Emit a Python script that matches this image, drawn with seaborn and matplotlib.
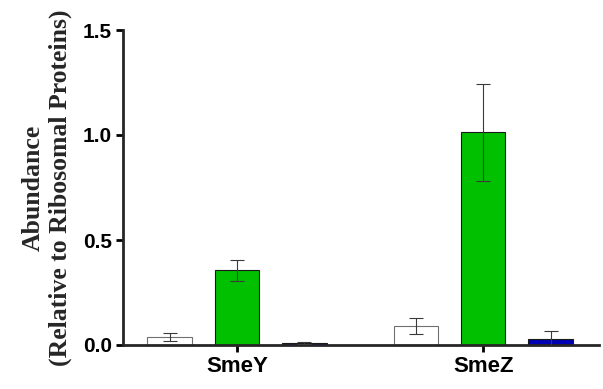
import matplotlib
matplotlib.use("Agg")
import matplotlib.pyplot as plt
import seaborn as sns
import pandas as pd

proteins = ["SmeY", "SmeZ"]
conditions = ["Control", "Treatment A", "Treatment B"]
means = {
    "Control": [0.038, 0.092],
    "Treatment A": [0.355, 1.013],
    "Treatment B": [0.008, 0.030],
}
errors = {
    "Control": [0.019, 0.038],
    "Treatment A": [0.052, 0.230],
    "Treatment B": [0.005, 0.036],
}
colors = ["#ffffff", "#00c000", "#0000b4"]
edges = ["#707070", "#1a1a1a", "#1a1a1a"]

rows = []
for c in conditions:
    for p, m, e in zip(proteins, means[c], errors[c]):
        rows.append({"protein": p, "condition": c, "mean": m, "err": e})
df = pd.DataFrame(rows)

sns.set_style("ticks")
fig = plt.figure(figsize=(6.03, 3.89), dpi=100)
ax = fig.add_axes([123 / 603, 1 - 345 / 389, (599 - 123) / 603, (345 - 30) / 389])

sns.barplot(data=df, x="protein", y="mean", hue="condition", order=proteins,
            hue_order=conditions, palette=colors, saturation=1, width=0.82,
            gap=0.34, errorbar=None, legend=False, ax=ax, linewidth=0.8)

# colour edges and attach error bars to each bar
bar_groups = list(ax.containers)
for ci, cont in enumerate(bar_groups):
    cond = conditions[ci]
    for pi, bar in enumerate(cont):
        bar.set_edgecolor(edges[ci])
        x = bar.get_x() + bar.get_width() / 2
        ax.errorbar(x, means[cond][pi], yerr=errors[cond][pi], fmt="none",
                    ecolor="#3a3a3a", elinewidth=0.8, capsize=5, capthick=0.8,
                    zorder=3)

ax.set_xlim(-0.463, 1.47)
ax.set_ylim(0, 1.5)
ax.set_yticks([0, 0.5, 1.0, 1.5])
ax.set_yticklabels(["0.0", "0.5", "1.0", "1.5"])
ax.set_xlabel("")
ax.set_ylabel("Abundance\n(Relative to Ribosomal Proteins)",
              fontfamily="Liberation Serif", fontweight="bold", fontsize=18.5,
              linespacing=1.2, labelpad=8)

for lab in ax.get_yticklabels():
    lab.set_fontfamily("Liberation Sans")
    lab.set_fontweight("bold")
    lab.set_fontsize(15)
for lab in ax.get_xticklabels():
    lab.set_fontfamily("Liberation Sans")
    lab.set_fontweight("bold")
    lab.set_fontsize(16)

sns.despine(ax=ax)
ax.spines["left"].set_linewidth(2.0)
ax.spines["bottom"].set_linewidth(2.0)
ax.tick_params(axis="both", width=2.0, length=5, colors="black", pad=3)

fig.savefig("out.png", dpi=100)
